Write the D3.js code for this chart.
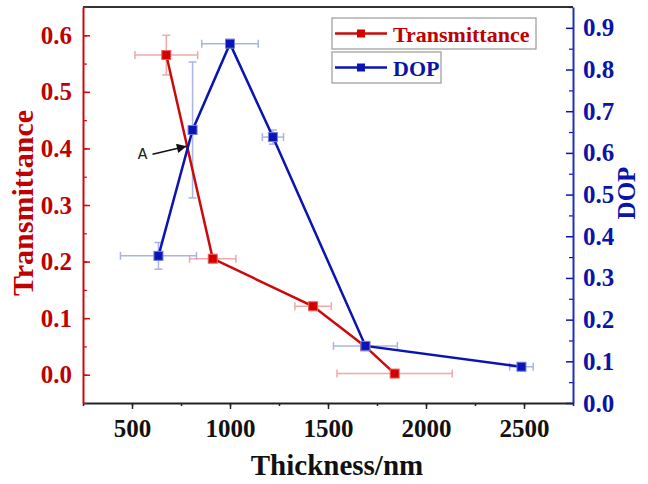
<!DOCTYPE html>
<html>
<head>
<meta charset="utf-8">
<script src="https://cdn.jsdelivr.net/npm/d3@7"></script>
<style>
  body { margin: 0; background: #fff; }
  text { font-family: "Liberation Serif", "Times New Roman", serif; font-weight: bold; }
</style>
</head>
<body>
<div id="chart"></div>
<script>
// Transmittance series (left axis)
const transThickness = [675, 912, 1424, 1690, 1840];
const transValue = [0.565, 0.205, 0.121, 0.05, 0.002];
const transXErr = [160, 118, 93, 0, 294];
const transYErr = [0.035, 0, 0, 0, 0];

// DOP series (right axis)
const dopThickness = [635, 809, 1000, 1219, 1691, 2487];
const dopValue = [0.353, 0.655, 0.862, 0.638, 0.137, 0.087];
const dopXErr = [194, 0, 144, 54, 163, 60];
const dopYErr = [0.032, 0.163, 0.01, 0.017, 0, 0];

const xTicks = [500, 1000, 1500, 2000, 2500];
const leftTicks = [0, 0.1, 0.2, 0.3, 0.4, 0.5, 0.6];
const rightTicks = [0, 0.1, 0.2, 0.3, 0.4, 0.5, 0.6, 0.7, 0.8, 0.9];

// annotation "A" at the crossing
const annotation = { label: "A", thickness: 778, value: 0.404 };

const width = 648, height = 484;
const margin = { top: 7, right: 75, bottom: 81, left: 83 };

const red = "#cc0a0a", blue = "#0a14b0";
const redErr = "#f0a8a8", blueErr = "#aab4e6";

const x = d3.scaleLinear([250, 2750], [margin.left, width - margin.right]);
const yL = d3.scaleLinear([-0.05, 0.65], [height - margin.bottom, margin.top]);
const yR = d3.scaleLinear([0, 0.95], [height - margin.bottom, margin.top]);

const svg = d3.select("#chart").append("svg")
  .attr("width", width)
  .attr("height", height)
  .attr("viewBox", [0, 0, width, height]);

svg.append("defs").append("marker")
  .attr("id", "arrow")
  .attr("viewBox", "0 0 10 10")
  .attr("refX", 10).attr("refY", 5)
  .attr("markerWidth", 7).attr("markerHeight", 6)
  .attr("orient", "auto")
  .append("path").attr("d", "M0,0L10,5L0,10z").attr("fill", "#111");

const trans = transThickness.map((t, i) => ({ x: t, y: transValue[i], ex: transXErr[i], ey: transYErr[i] }));
const dop = dopThickness.map((t, i) => ({ x: t, y: dopValue[i], ex: dopXErr[i], ey: dopYErr[i] }));

// error bars
function errorBars(data, yScale, color) {
  const g = svg.append("g").attr("stroke", color).attr("stroke-width", 1.5).attr("fill", "none");
  const cap = 4;
  data.forEach(d => {
    if (d.ex > 0) {
      const x0 = x(d.x - d.ex), x1 = x(d.x + d.ex), yy = yScale(d.y);
      g.append("line").attr("x1", x0).attr("x2", x1).attr("y1", yy).attr("y2", yy);
      g.append("line").attr("x1", x0).attr("x2", x0).attr("y1", yy - cap).attr("y2", yy + cap);
      g.append("line").attr("x1", x1).attr("x2", x1).attr("y1", yy - cap).attr("y2", yy + cap);
    }
    if (d.ey > 0) {
      const y0 = yScale(d.y - d.ey), y1 = yScale(d.y + d.ey), xx = x(d.x);
      g.append("line").attr("x1", xx).attr("x2", xx).attr("y1", y0).attr("y2", y1);
      g.append("line").attr("x1", xx - cap).attr("x2", xx + cap).attr("y1", y0).attr("y2", y0);
      g.append("line").attr("x1", xx - cap).attr("x2", xx + cap).attr("y1", y1).attr("y2", y1);
    }
  });
}
errorBars(trans, yL, redErr);
errorBars(dop, yR, blueErr);

// lines
svg.append("path")
  .datum(trans)
  .attr("fill", "none").attr("stroke", red).attr("stroke-width", 2.5)
  .attr("d", d3.line().x(d => x(d.x)).y(d => yL(d.y)));

svg.append("path")
  .datum(dop)
  .attr("fill", "none").attr("stroke", blue).attr("stroke-width", 2.5)
  .attr("d", d3.line().x(d => x(d.x)).y(d => yR(d.y)));

// markers
const ms = 9;
svg.append("g").selectAll("rect")
  .data(trans).join("rect")
  .attr("x", d => x(d.x) - ms / 2).attr("y", d => yL(d.y) - ms / 2)
  .attr("width", ms).attr("height", ms)
  .attr("fill", "#d40000").attr("stroke", "#e86060").attr("stroke-width", 1);

svg.append("g").selectAll("rect")
  .data(dop).join("rect")
  .attr("x", d => x(d.x) - ms / 2).attr("y", d => yR(d.y) - ms / 2)
  .attr("width", ms).attr("height", ms)
  .attr("fill", "#0a14b8").attr("stroke", "#7080d8").attr("stroke-width", 1);

// annotation A
const ax = x(annotation.thickness), ay = yL(annotation.value);
svg.append("line")
  .attr("x1", ax - 34).attr("y1", ay + 8)
  .attr("x2", ax).attr("y2", ay)
  .attr("stroke", "#111").attr("stroke-width", 1.6)
  .attr("marker-end", "url(#arrow)");
svg.append("text")
  .attr("x", ax - 44).attr("y", ay + 13)
  .attr("text-anchor", "middle")
  .style("font-family", "'Liberation Mono', monospace")
  .style("font-weight", "normal")
  .attr("font-size", 16).attr("fill", "#222")
  .text(annotation.label);

// frame: top line
svg.append("line")
  .attr("x1", margin.left).attr("x2", width - margin.right)
  .attr("y1", margin.top).attr("y2", margin.top)
  .attr("stroke", "#333").attr("stroke-width", 2);

// bottom axis
const bottom = svg.append("g")
  .attr("transform", `translate(0,${height - margin.bottom})`);
bottom.call(d3.axisBottom(x).tickValues(d3.range(250, 2751, 250)).tickSize(3).tickFormat(""))
  .call(g => g.select(".domain").remove())
  .call(g => g.selectAll("line").attr("stroke", "#222").attr("stroke-width", 1.5));
bottom.append("g")
  .call(d3.axisBottom(x).tickValues(xTicks).tickSize(6).tickPadding(10).tickSizeOuter(0).tickFormat(d3.format("d")))
  .call(g => g.select(".domain").attr("stroke", "#222").attr("stroke-width", 2))
  .call(g => g.selectAll("line").attr("stroke", "#222").attr("stroke-width", 1.5))
  .call(g => g.selectAll("text").attr("font-size", 25).attr("fill", "#111")
    .style("font-family", "'Liberation Serif', serif"));

// left axis
const left = svg.append("g").attr("transform", `translate(${margin.left},0)`);
left.call(d3.axisLeft(yL).tickValues(d3.range(-0.05, 0.651, 0.05)).tickSize(-4).tickFormat(""))
  .call(g => g.select(".domain").remove())
  .call(g => g.selectAll("line").attr("stroke", red).attr("stroke-width", 1.2));
left.append("g")
  .call(d3.axisLeft(yL).tickValues(leftTicks).tickSize(-7).tickPadding(11).tickSizeOuter(0).tickFormat(d3.format(".1f")))
  .call(g => g.select(".domain").attr("stroke", red).attr("stroke-width", 2))
  .call(g => g.selectAll("line").attr("stroke", red).attr("stroke-width", 1.5))
  .call(g => g.selectAll("text").attr("font-size", 25).attr("fill", "#c00000")
    .style("font-family", "'Liberation Serif', serif"));

// right axis
const right = svg.append("g").attr("transform", `translate(${width - margin.right},0)`);
right.call(d3.axisRight(yR).tickValues(d3.range(0.05, 0.951, 0.1)).tickSize(-4).tickFormat(""))
  .call(g => g.select(".domain").remove())
  .call(g => g.selectAll("line").attr("stroke", blue).attr("stroke-width", 1.2));
right.append("g")
  .call(d3.axisRight(yR).tickValues(rightTicks).tickSize(-7).tickPadding(10).tickSizeOuter(0).tickFormat(d3.format(".1f")))
  .call(g => g.select(".domain").attr("stroke", "#2030b8").attr("stroke-width", 2))
  .call(g => g.selectAll("line").attr("stroke", blue).attr("stroke-width", 1.5))
  .call(g => g.selectAll("text").attr("font-size", 25).attr("fill", "#0a14a8")
    .style("font-family", "'Liberation Serif', serif"));

// axis titles
svg.append("text")
  .attr("transform", "translate(33,203) rotate(-90)")
  .attr("text-anchor", "middle")
  .attr("font-size", 30).attr("fill", "#c00000")
  .text("Transmittance");

svg.append("text")
  .attr("transform", "translate(635,193) rotate(-90)")
  .attr("text-anchor", "middle")
  .attr("font-size", 25).attr("fill", "#0a14a8")
  .text("DOP");

svg.append("text")
  .attr("x", 337).attr("y", 475)
  .attr("text-anchor", "middle")
  .attr("font-size", 29).attr("fill", "#111")
  .text("Thickness/nm");

// legend
const legendItems = [
  { name: "Transmittance", color: red, marker: "#d40000", text: "#c00000", y: 18, w: 204 },
  { name: "DOP", color: blue, marker: "#0a14b8", text: "#0a14a8", y: 52, w: 109 }
];
const lg = svg.append("g");
legendItems.forEach(d => {
  const g = lg.append("g").attr("transform", `translate(332,${d.y})`);
  g.append("rect").attr("width", d.w).attr("height", 31)
    .attr("fill", "#fff").attr("stroke", "#999").attr("stroke-width", 1.2);
  g.append("line").attr("x1", 3).attr("x2", 55).attr("y1", 15.5).attr("y2", 15.5)
    .attr("stroke", d.color).attr("stroke-width", 2.5);
  g.append("rect").attr("x", 25).attr("y", 11.5).attr("width", 8).attr("height", 8)
    .attr("fill", d.marker);
  g.append("text").attr("x", 61).attr("y", 24)
    .attr("font-size", 22).attr("fill", d.text)
    .text(d.name);
});
</script>
</body>
</html>
